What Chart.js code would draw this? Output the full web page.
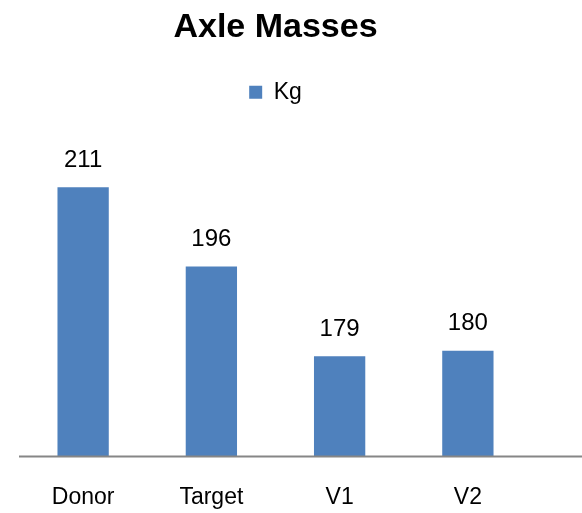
<!DOCTYPE html>
<html>
<head>
<meta charset="utf-8">
<script src="https://cdn.jsdelivr.net/npm/chart.js@4"></script>
<style>
  html, body { margin: 0; padding: 0; background: #fff; }
  #wrap { width: 582px; height: 513px; }
</style>
</head>
<body>
<div id="wrap"><canvas id="chart"></canvas></div>
<script>
const categories = ["Donor", "Target", "V1", "V2"];
const massValues = [211, 196, 179, 180];
const seriesName = "Kg";

const fontFamily = "'Liberation Sans', Arial, sans-serif";

// legend gets extra room below it, like the source chart
const legendSpacer = {
  id: "legendSpacer",
  beforeInit(chart) {
    const fit = chart.legend.fit;
    chart.legend.fit = function () {
      fit.bind(chart.legend)();
      this.height += 26;
    };
  },
};

// value labels over each bar
const barLabels = {
  id: "barLabels",
  afterDatasetsDraw(chart) {
    const ctx = chart.ctx;
    const meta = chart.getDatasetMeta(0);
    ctx.save();
    ctx.font = `24px ${fontFamily}`;
    ctx.fillStyle = "#000";
    ctx.textAlign = "center";
    ctx.textBaseline = "middle";
    meta.data.forEach((bar, i) => {
      ctx.fillText(chart.data.datasets[0].data[i], bar.x, bar.y - 27);
    });
    ctx.restore();
  },
};

// baseline runs on to the right edge
const baseLine = {
  id: "baseLine",
  afterDraw(chart) {
    const ctx = chart.ctx;
    const y = chart.scales.y.getPixelForValue(160);
    ctx.save();
    ctx.strokeStyle = "#868686";
    ctx.lineWidth = 2;
    ctx.beginPath();
    ctx.moveTo(chart.chartArea.left, y);
    ctx.lineTo(chart.width, y);
    ctx.stroke();
    ctx.restore();
  },
};

new Chart(document.getElementById("chart"), {
  type: "bar",
  data: {
    labels: categories,
    datasets: [
      {
        label: seriesName,
        data: massValues,
        backgroundColor: "#4F81BD",
        borderWidth: 0,
        categoryPercentage: 1,
        barPercentage: 0.4,
      },
    ],
  },
  options: {
    responsive: true,
    maintainAspectRatio: false,
    animation: false,
    layout: { padding: { left: 19, right: 50, top: 0, bottom: -25 } },
    plugins: {
      title: {
        display: true,
        text: "Axle Masses",
        color: "#000",
        font: { family: fontFamily, size: 34, weight: "bold" },
        padding: { top: 7, bottom: 25 },
      },
      legend: {
        display: true,
        labels: {
          color: "#000",
          font: { family: fontFamily, size: 23 },
          boxWidth: 13,
          boxHeight: 13,
          padding: 8,
        },
      },
      tooltip: { enabled: false },
    },
    scales: {
      x: {
        grid: { display: false, drawTicks: false },
        border: { display: false },
        ticks: {
          color: "#000",
          font: { family: fontFamily, size: 23 },
          padding: 27,
        },
      },
      y: {
        display: false,
        min: 160,
        max: 220,
      },
    },
  },
  plugins: [legendSpacer, barLabels, baseLine],
});
</script>
</body>
</html>
